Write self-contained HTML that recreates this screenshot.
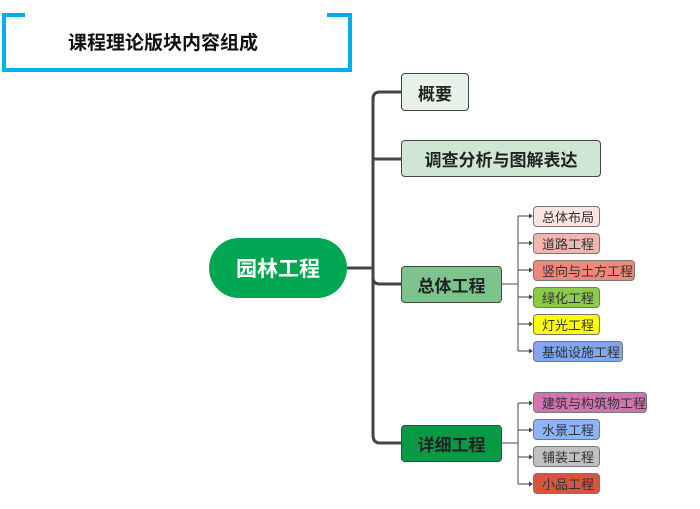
<!DOCTYPE html>
<html><head><meta charset="utf-8"><style>
body{margin:0;width:700px;height:509px;background:#fff;position:relative;overflow:hidden;font-family:"Liberation Sans","Noto Sans CJK SC",sans-serif}
.n{position:absolute;box-sizing:border-box;border:1.5px solid #444;border-radius:4px;display:flex;align-items:center;justify-content:center;color:#333;white-space:nowrap}
.b{font-weight:bold;font-size:17px;color:#222}
.s{font-size:13px;border-width:1px;border-color:#777;justify-content:flex-start;padding-left:8px}
.t{position:absolute;left:68px;top:28px;font-size:19px;font-weight:bold;color:#111}
</style></head><body>
<svg width="700" height="509" style="position:absolute;left:0;top:0">
<path d="M25 15H4V70H350V15H327" fill="none" stroke="#00aeef" stroke-width="4"/>
<g fill="none" stroke="#444" stroke-width="3">
<path d="M347 268H373"/>
<path d="M401 92H380Q373 92 373 99V435Q373 443 380 443H401"/>
<path d="M373 159H401"/>
<path d="M373 278Q373 284 380 284H401"/>
</g>
<g fill="none" stroke="#666" stroke-width="1.2">
<path d="M502 284H518"/><path d="M518 216V351"/>
<path d="M518 216H530M518 243H530M518 270H530M518 297H530M518 324H530M518 351H530"/>
<path d="M502 443H518"/><path d="M518 403V484"/>
<path d="M518 403H530M518 430H530M518 457H530M518 484H530"/>
</g>
<g fill="#444">
<path d="M533 216l-4-2.5v5z"/><path d="M533 243l-4-2.5v5z"/><path d="M533 270l-4-2.5v5z"/><path d="M533 297l-4-2.5v5z"/><path d="M533 324l-4-2.5v5z"/><path d="M533 351l-4-2.5v5z"/>
<path d="M533 403l-4-2.5v5z"/><path d="M533 430l-4-2.5v5z"/><path d="M533 457l-4-2.5v5z"/><path d="M533 484l-4-2.5v5z"/>
</g>
</svg>
<div class="t">课程理论版块内容组成</div>
<div class="n" style="left:209px;top:238px;width:138px;height:60px;border:none;border-radius:30px;background:#00a651;color:#fff;font-size:21px;font-weight:bold">园林工程</div>
<div class="n b" style="left:401px;top:73px;width:68px;height:38px;background:#e8f3e8">概要</div>
<div class="n b" style="left:401px;top:140px;width:200px;height:37px;background:#cfe6d2">调查分析与图解表达</div>
<div class="n b" style="left:401px;top:266px;width:101px;height:37px;background:#7dc38b">总体工程</div>
<div class="n b" style="left:401px;top:425px;width:101px;height:37px;background:#079a44">详细工程</div>
<div class="n s" style="left:533px;top:206px;width:67px;height:21px;background:#fbe5e2">总体布局</div>
<div class="n s" style="left:533px;top:233px;width:67px;height:21px;background:#f3b6ae">道路工程</div>
<div class="n s" style="left:533px;top:260px;width:102px;height:21px;background:#f0877b">竖向与土方工程</div>
<div class="n s" style="left:533px;top:287px;width:67px;height:21px;background:#8cca4a">绿化工程</div>
<div class="n s" style="left:533px;top:314px;width:67px;height:21px;background:#ffff00">灯光工程</div>
<div class="n s" style="left:533px;top:341px;width:90px;height:21px;background:#80a8f0">基础设施工程</div>
<div class="n s" style="left:533px;top:392px;width:114px;height:21px;background:#d174b0">建筑与构筑物工程</div>
<div class="n s" style="left:533px;top:419px;width:67px;height:21px;background:#8cb4f8">水景工程</div>
<div class="n s" style="left:533px;top:446px;width:67px;height:21px;background:#c0c0c0">铺装工程</div>
<div class="n s" style="left:533px;top:473px;width:67px;height:21px;background:#d9543e">小品工程</div>
</body></html>
